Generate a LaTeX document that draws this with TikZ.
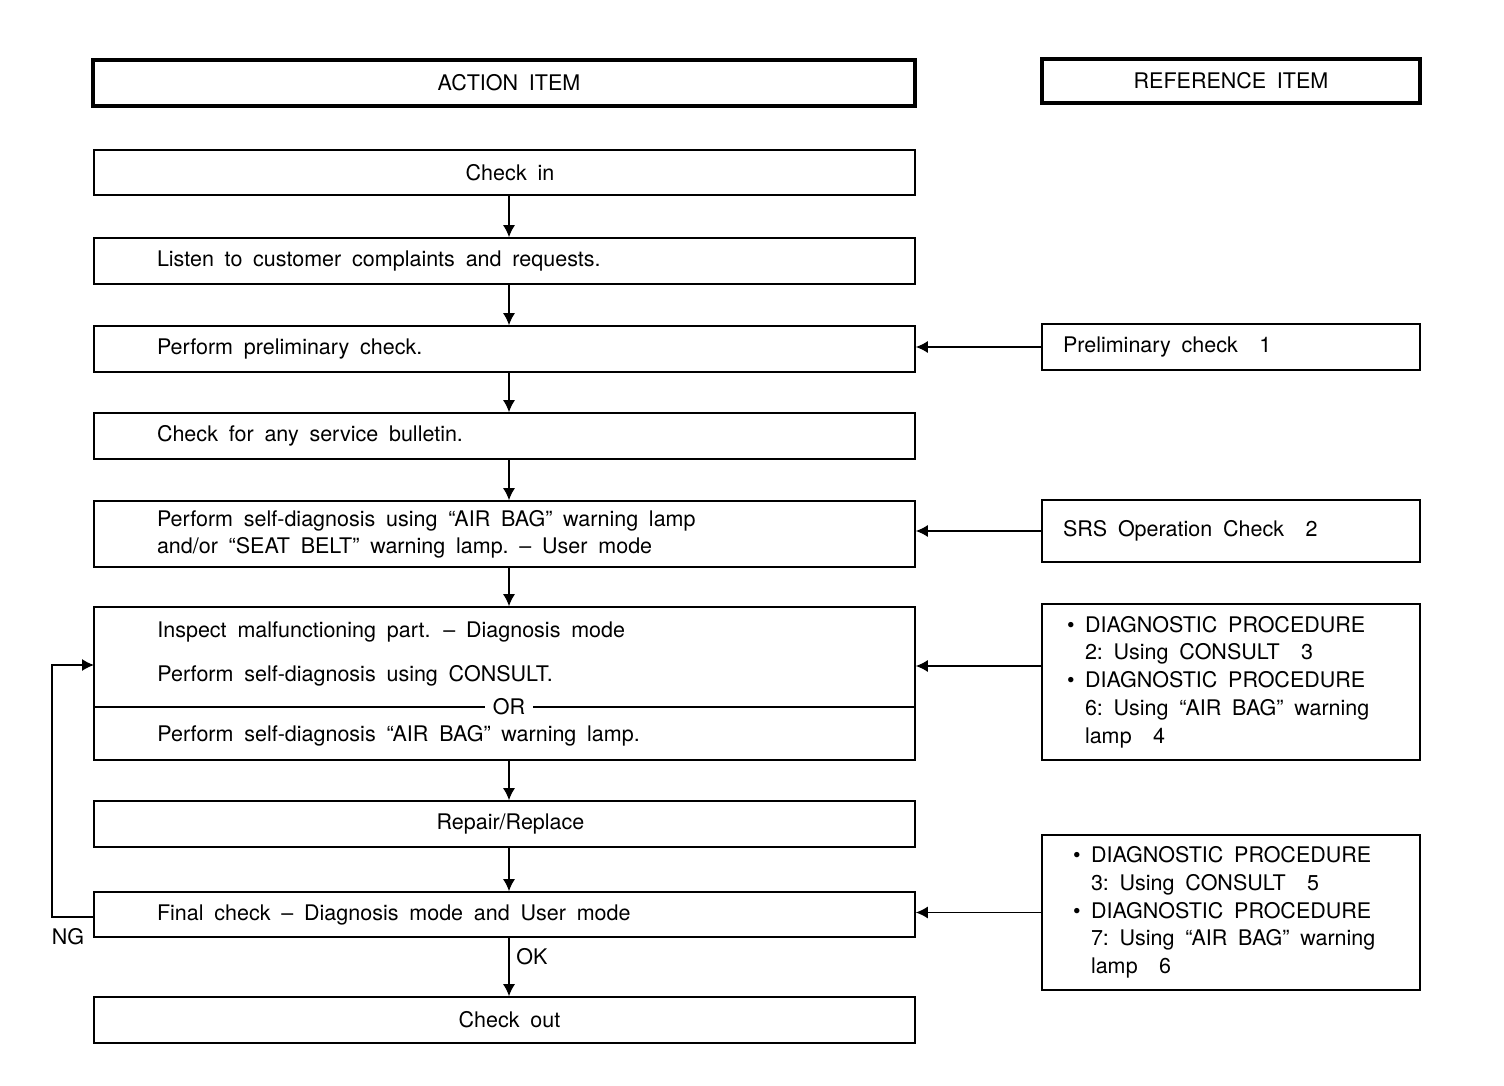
\documentclass[tikz,border=0pt]{standalone}
\usepackage{fontspec}
\setmainfont{TeX Gyre Heros}
\usetikzlibrary{arrows.meta}
\newcommand\myfnt[1]{\fontsize{10.75}{#1}\selectfont}
\begin{document}
\begin{tikzpicture}[x=0.5pt,y=-0.5pt,
  font=\myfnt{13.5pt},
  execute at begin node={\spaceskip=5.4pt plus 1pt minus 1pt\relax},
  box/.style={draw,line width=0.8pt,minimum width=410.5pt,inner ysep=0pt,anchor=center},
  cbox/.style={box,align=center},
  lbox/.style={box,align=left,text width=347.5pt,inner xsep=31.5pt},
  hdr/.style={draw,line width=1.6pt,inner sep=0pt,anchor=center},
  rbox/.style={draw,line width=0.8pt,minimum width=189pt,inner ysep=0pt,anchor=center,align=left},
  arr/.style={line width=0.7pt,-{Latex[length=6pt,width=6pt]}},
  lbl/.style={inner sep=0pt,anchor=center}]
\useasboundingbox (0,0) rectangle (1504,1086);
% headers
\node[hdr,minimum width=411pt,minimum height=23pt] (action) at (504,83) {\hspace*{5pt}ACTION ITEM};
\node[hdr,minimum width=189pt,minimum height=22pt] (refitem) at (1231,81) {REFERENCE ITEM};
% action column
\node[cbox,minimum height=22.5pt] (checkin) at (504.5,172.5) {\hspace*{5.5pt}Check in};
\node[lbox,minimum height=23pt] (listen) at (504.5,261) {Listen to customer complaints and requests.};
\node[lbox,minimum height=23pt] (prelim) at (504.5,349) {Perform preliminary check.};
\node[lbox,minimum height=23pt] (bulletin) at (504.5,436) {Check for any service bulletin.};
\node[lbox,minimum height=33pt] (selfdiag) at (504.5,534) {Perform self-diagnosis using “AIR BAG” warning lamp\\and/or “SEAT BELT” warning lamp. – User mode};
\node[box,minimum height=76.5pt] (inspect) at (504.5,683.5) {};
\node[cbox,minimum height=23pt] (repair) at (504.5,824) {\hspace*{6pt}Repair/Replace};
\node[lbox,minimum height=22.5pt] (final) at (504.5,914.5) {Final check – Diagnosis mode and User mode};
\node[cbox,minimum height=23pt] (checkout) at (504.5,1020) {\hspace*{5pt}Check out};
% inspect contents
\node[lbl,anchor=west] (insp1) at (157,632) {Inspect malfunctioning part. – Diagnosis mode};
\node[lbl,anchor=west] (insp2) at (157,676) {Perform self-diagnosis using CONSULT.};
\node[lbl,anchor=west] (insp3) at (157,736) {Perform self-diagnosis “AIR BAG” warning lamp.};
\draw[line width=0.8pt] (inspect.west |- 0,707) -- (inspect.east |- 0,707);
\node[lbl,fill=white,inner xsep=4pt] (or) at (509,707) {OR};
% reference column
\node[rbox,minimum height=23pt,text width=168pt,inner xsep=10.5pt] (r1) at (1231,347) {Preliminary check\quad 1};
\node[rbox,minimum height=31pt,text width=168pt,inner xsep=10.5pt] (r2) at (1231,531) {SRS Operation Check\quad 2};
\node[rbox,minimum height=78pt,text width=164pt,inner xsep=12.5pt,font=\myfnt{13.85pt}] (r3) at (1231,682) {\makebox[9pt][l]{\textbullet}DIAGNOSTIC PROCEDURE\\
\hspace*{9pt}2: Using CONSULT\quad 3\\
\makebox[9pt][l]{\textbullet}DIAGNOSTIC PROCEDURE\\
\hspace*{9pt}6: Using “AIR BAG” warning\\
\hspace*{9pt}lamp\quad 4};
\node[rbox,minimum height=77.5pt,text width=158pt,inner xsep=15.5pt,font=\myfnt{13.85pt}] (r4) at (1231,912.5) {\makebox[9pt][l]{\textbullet}DIAGNOSTIC PROCEDURE\\
\hspace*{9pt}3: Using CONSULT\quad 5\\
\makebox[9pt][l]{\textbullet}DIAGNOSTIC PROCEDURE\\
\hspace*{9pt}7: Using “AIR BAG” warning\\
\hspace*{9pt}lamp\quad 6};
% vertical connectors
\coordinate (ax) at (509,0);
\draw[arr] (checkin.south -| ax) -- (listen.north -| ax);
\draw[arr] (listen.south -| ax) -- (prelim.north -| ax);
\draw[arr] (prelim.south -| ax) -- (bulletin.north -| ax);
\draw[arr] (bulletin.south -| ax) -- (selfdiag.north -| ax);
\draw[arr] (selfdiag.south -| ax) -- (inspect.north -| ax);
\draw[arr] (inspect.south -| ax) -- (repair.north -| ax);
\draw[arr] (repair.south -| ax) -- (final.north -| ax);
\draw[arr] (final.south -| ax) -- (checkout.north -| ax);
\node[lbl] (ok) at (532,957) {OK};
% horizontal connectors
\draw[arr] (r1.west) -- (r1.west -| prelim.east);
\draw[arr] (r2.west) -- (r2.west -| selfdiag.east);
\coordinate (a3) at (1042,666);
\draw[arr] (a3) -- (a3 -| inspect.east);
\draw[arr] (r4.west) -- (r4.west -| final.east);
% NG loop
\coordinate (ngx) at (52,917);
\coordinate (ngin) at (94,665);
\draw[arr] (final.west |- ngx) -- (ngx) |- (ngin);
\node[lbl] (ng) at (68,937) {NG};
\end{tikzpicture}
\end{document}
